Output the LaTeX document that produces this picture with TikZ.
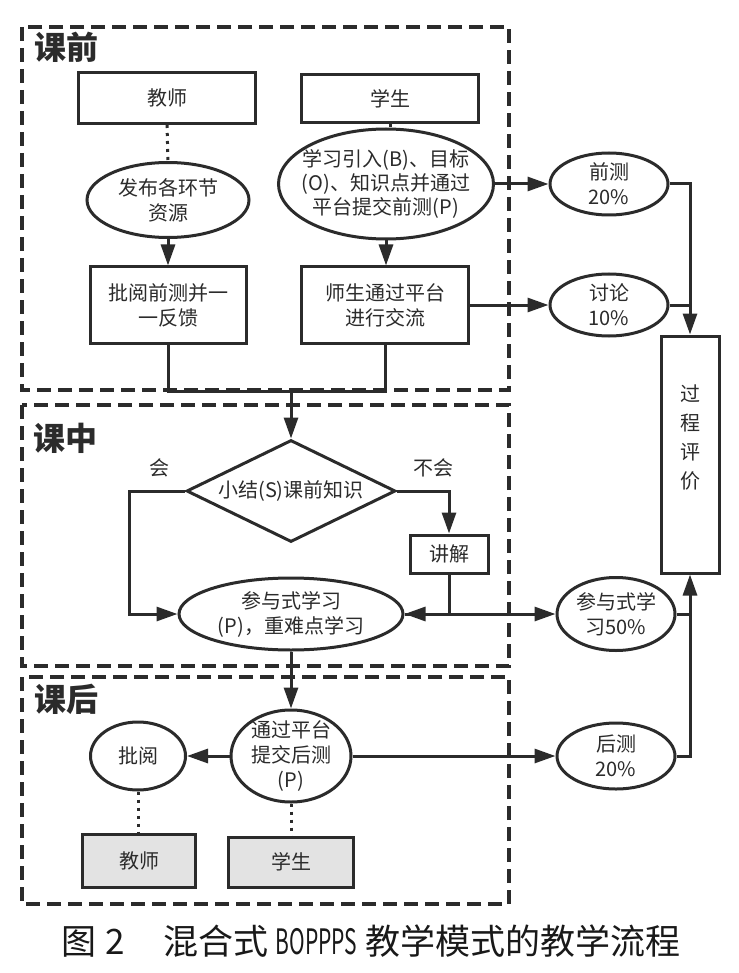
\documentclass[tikz,border=0pt]{standalone}
\usepackage{fontspec, graphicx}
\setmainfont{Noto Sans CJK SC}
\usetikzlibrary{arrows.meta, shapes.geometric, positioning}
\definecolor{ink}{HTML}{2B2B2B}
\definecolor{shade}{HTML}{E3E3E3}
\tikzset{>={Triangle[length=21pt,width=14pt]}}
\tikzset{
  line/.style={draw=ink, line width=3pt},
  frame/.style={draw=ink, line width=4pt, dash pattern=on 14pt off 7pt},
  dots/.style={draw=ink, line width=3pt, dash pattern=on 3pt off 5pt},
  txt/.style={align=center, font=\fontsize{20}{25}\selectfont, text=ink, inner sep=0pt},
  box/.style={txt, draw=ink, line width=3pt, fill=white},
  oval/.style={ellipse, draw=ink, line width=3pt, fill=white, inner sep=0pt},
  stage/.style={font=\fontsize{32}{32}\selectfont\bfseries, text=ink, inner sep=0pt}
}

\begin{document}
\begin{tikzpicture}[x=1pt, y=-1pt]
    \useasboundingbox (0,0) rectangle (738,973);
    % stage frames
    \draw [frame] (22,27) rectangle (509,390);
    \draw [frame] (22,405) rectangle (509,666);
    \draw [frame] (22,677) rectangle (509,904);
    \node [stage] (before) at (66,47) {课前};
    \node [stage] (during) at (65,438) {课中};
    \node [stage] (after) at (66,699) {课后};

    % before class
    \node [box, minimum width=177pt, minimum height=51pt] (teach) at (167,98) {教师};
    \node [box, minimum width=177pt, minimum height=48pt] (stu) at (390,99) {学生};
    \node [oval, minimum width=162pt, minimum height=75pt,
        label={[txt]center:{发布各环节\\资源}}] (pub) at (168,200) {};
    \node [oval, minimum width=215pt, minimum height=110pt,
        label={[txt, font=\fontsize{20}{24}\selectfont]center:{学习引入(B)、目标\\(O)、知识点并通过\\平台提交前测(P)}}] (intro) at (386,184) {};
    \node [box, minimum width=156pt, minimum height=76pt] (review) at (168,305) {批阅前测并一\\一反馈};
    \node [box, minimum width=167pt, minimum height=76pt] (chat) at (385,305) {师生通过平台\\进行交流};

    % scores
    \node [oval, minimum width=118pt, minimum height=62pt,
        label={[txt]center:{前测\\20\%}}] (pre) at (609,184) {};
    \node [oval, minimum width=118pt, minimum height=62pt,
        label={[txt]center:{讨论\\10\%}}] (disc) at (609,305) {};
    \node [box, minimum width=58pt, minimum height=237pt,
        font=\fontsize{20}{29}\selectfont] (eval) at (690,454.5) {过\\程\\评\\价\\[6pt]};

    % in class
    \node [diamond, draw=ink, line width=3pt, inner sep=0pt, minimum width=209pt, minimum height=102pt,
        label={[txt]center:{小结(S)课前知识}}] (sum) at (291,491) {};
    \node [txt] (yes) at (159,468) {会};
    \node [txt] (no) at (433,468) {不会};
    \node [box, minimum width=78pt, minimum height=38pt] (explain) at (449,554) {讲解};
    \node [oval, minimum width=224pt, minimum height=72pt,
        label={[txt]center:{参与式学习\\(P)，重难点学习}}] (part) at (291,614) {};
    \node [oval, minimum width=118pt, minimum height=73pt,
        label={[txt]center:{参与式学\\习50\%}}] (part50) at (616,614) {};

    % after class
    \node [oval, minimum width=120pt, minimum height=92pt,
        label={[txt]center:{通过平台\\提交后测\\(P)}}] (submit) at (291,756) {};
    \node [oval, minimum width=95pt, minimum height=68pt,
        label={[txt]center:{批阅}}] (mark) at (138,756) {};
    \node [oval, minimum width=118pt, minimum height=66pt,
        label={[txt]center:{后测\\20\%}}] (post) at (616,756) {};
    \node [box, fill=shade, minimum width=113pt, minimum height=53pt] (teach2) at (139,861) {教师};
    \node [box, fill=shade, minimum width=125pt, minimum height=50pt] (stu2) at (291,862) {学生};

    \node [font=\fontsize{35}{35}\selectfont, text=black!90, inner sep=0pt] (cap) at (371,941)
        {图\hspace{9pt}2\hspace{38pt}混合式 \scalebox{0.6}[1]{BOPPPS} 教学模式的教学流程};

    % connectors
    \draw [dots] (teach.south) -- (pub.north);
    \draw [line] (stu.south) -- (stu.south |- intro.north);
    \draw [line, ->] (pub.south) -- (review.north);
    \draw [line, ->] (intro.south) -- (intro.south |- chat.north);
    \draw [line, ->] (intro.east) -- (pre.west);
    \draw [line, ->] (chat.east) -- (chat.east -| disc.west);
    \draw [line, ->] (pre.east) -| (eval.north);
    \draw [line] (disc.east) -- (disc.east -| eval.north);

    \coordinate (join) at (291,391);
    \draw [line] (review.south) |- (join) -| (chat.south);
    \draw [line, ->] (join) -- (sum.north);
    \coordinate (left) at (129,614);
    \draw [line, ->] (sum.west) -| (left) -- (part.west);
    \draw [line, ->] (sum.east) -| (explain.north);
    \draw [line, ->] (explain.south) |- (part.east);
    \draw [line, ->] (part.east) -- (part50.west);
    \draw [line] (part50.east) -- (part50.east -| eval.south);

    \draw [line, ->] (part.south) -- (submit.north);
    \draw [line, ->] (submit.west) -- (mark.east);
    \draw [line, ->] (submit.east) -- (post.west);
    \draw [line, ->] (post.east) -| (eval.south);
    \draw [dots] (mark.south) -- (mark.south |- teach2.north);
    \draw [dots] (submit.south) -- (stu2.north);
\end{tikzpicture}
\end{document}
